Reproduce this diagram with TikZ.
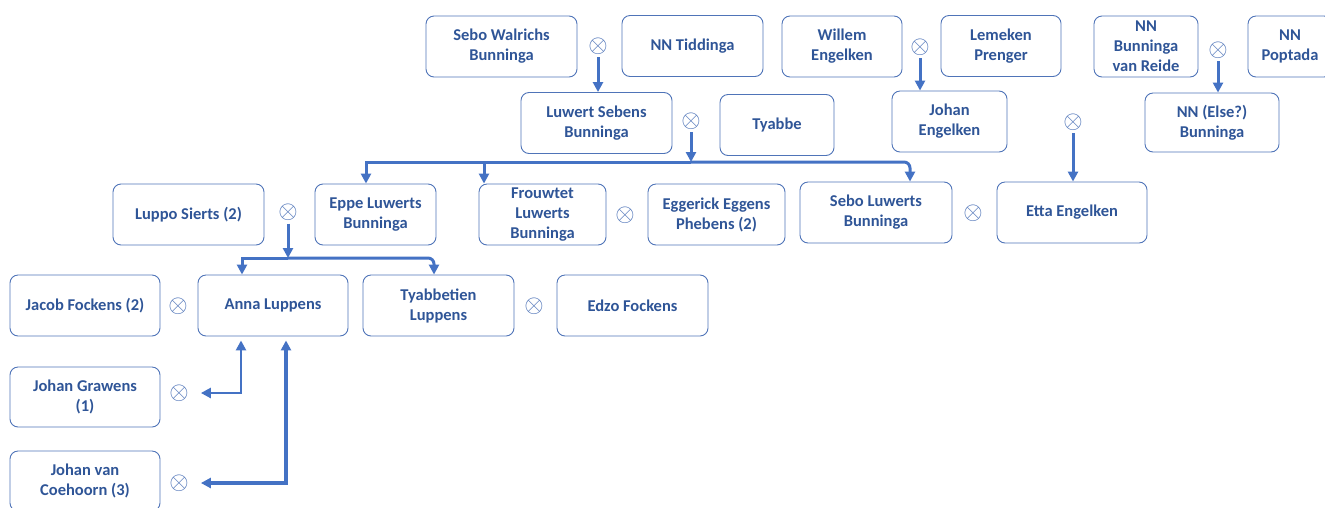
\documentclass[tikz,border=0pt]{standalone}
\usepackage{fontspec}
\setmainfont{Carlito}
\usetikzlibrary{arrows.meta}
\definecolor{nameblue}{HTML}{2F5597}
\definecolor{edgeblue}{HTML}{4F74B8}
\definecolor{linkblue}{HTML}{4472C4}

\begin{document}
\begin{tikzpicture}[x=1pt, y=-1pt,
        person/.style={draw=edgeblue, line width=0.9pt, rounded corners=8pt, minimum height=61pt,
            align=center, text=nameblue, inner sep=2pt, font=\fontsize{16.5}{20}\selectfont\bfseries},
        wed/.style={text=edgeblue, inner sep=0pt, font=\fontsize{25}{25}\selectfont},
        kid/.style={draw=linkblue, line width=3pt, -{Triangle[length=10pt,width=10pt]}},
        twoway/.style={draw=linkblue, {Triangle[length=10pt,width=10pt]}-{Triangle[length=10pt,width=10pt]}}]
                \useasboundingbox (0, 0) rectangle (1325, 507);

                \node[person, minimum width=151] (swb) at (501.5, 46.5) {Sebo Walrichs\\Bunninga};
                \node[person, minimum width=141] (nnt) at (692.5, 46) {NN Tiddinga};
                \node[person, minimum width=120] (we) at (842, 46.5) {Willem\\Engelken};
                \node[person, minimum width=120] (lp) at (1001, 46) {Lemeken\\Prenger};
                \node[person, minimum width=104] (nbr) at (1146, 46.5) {NN\\Bunninga\\van Reide};
                \node[person, minimum width=84] (npo) at (1290, 46.5) {NN\\Poptada};

                \node[person, minimum width=151] (luwert) at (596.5, 123) {Luwert Sebens\\Bunninga};
                \node[person, minimum width=114] (tyabbe) at (777, 125) {Tyabbe};
                \node[person, minimum width=115] (je) at (949.5, 121.5) {Johan\\Engelken};
                \node[person, minimum width=134, minimum height=59] (nne) at (1212, 122.5) {NN (Else?)\\Bunninga};

                \node[person, minimum width=151] (luppo) at (188.5, 214.5) {Luppo Sierts (2)};
                \node[person, minimum width=121] (eppe) at (375.5, 214.5) {Eppe Luwerts\\Bunninga};
                \node[person, minimum width=127] (frouw) at (542.5, 214.5) {Frouwtet\\Luwerts\\Bunninga};
                \node[person, minimum width=137] (egg) at (716.5, 214.5) {Eggerick Eggens\\Phebens (2)};
                \node[person, minimum width=152] (slb) at (876, 212.5) {Sebo Luwerts\\Bunninga};
                \node[person, minimum width=150] (etta) at (1072, 212.5) {Etta Engelken};

                \node[person, minimum width=150] (jacob) at (85, 305.5) {Jacob Fockens (2)};
                \node[person, minimum width=150] (anna) at (273, 305.5) {Anna Luppens};
                \node[person, minimum width=151] (tyabt) at (438.5, 305.5) {Tyabbetien\\Luppens};
                \node[person, minimum width=151] (edzo) at (632.5, 305.5) {Edzo Fockens};

                \node[person, minimum width=150, minimum height=60] (jg) at (85, 397) {Johan Grawens\\(1)};
                \node[person, minimum width=150, minimum height=60] (jvc) at (85, 481) {Johan van\\Coehoorn (3)};

                \node[wed] (m1) at (598, 46) {$\otimes$};
                \node[wed] (m2) at (920, 47) {$\otimes$};
                \node[wed] (m3) at (1218, 50) {$\otimes$};
                \node[wed] (m4) at (691, 121) {$\otimes$};
                \node[wed] (m5) at (1073, 122) {$\otimes$};
                \node[wed] (m6) at (288, 212) {$\otimes$};
                \node[wed] (m7) at (625, 215) {$\otimes$};
                \node[wed] (m8) at (973, 213) {$\otimes$};
                \node[wed] (m9) at (178, 306) {$\otimes$};
                \node[wed] (m10) at (534, 306) {$\otimes$};
                \node[wed] (m11) at (179, 393) {$\otimes$};
                \node[wed] (m12) at (179, 483) {$\otimes$};

                \draw[kid, shorten <=3pt] (m1) -- (m1 |- luwert.north);
                \draw[kid, shorten <=3pt] (m2) -- (m2 |- je.north);
                \draw[kid, shorten <=3pt] (m3) -- (m3 |- nne.north);
                \draw[kid, shorten <=3pt] (m5) -- (m5 |- etta.north);

                \coordinate (bus1) at (691, 162);
                \draw[kid, shorten <=3pt] (m4) -- (bus1);
                \draw[kid] (bus1) -| ([xshift=-9.5]eppe.north);
                \draw[kid] ([xshift=-58.5]frouw.north |- bus1) -- ([xshift=-58.5]frouw.north);
                \draw[kid, rounded corners=6] (bus1) -| ([xshift=34]slb.north);

                \coordinate (bus2) at (288, 258);
                \draw[kid, shorten <=3pt] (m6) -- (bus2);
                \draw[kid] (bus2) -| ([xshift=-31]anna.north);
                \draw[kid, rounded corners=6] (bus2) -| ([xshift=-4.5]tyabt.north);

                \draw[twoway, line width=2.6pt] ([xshift=12]m11.east) -| ([xshift=-32, yshift=-4]anna.south);
                \draw[twoway, line width=3.4pt] ([xshift=12]m12.east) -| ([xshift=13, yshift=-4]anna.south);
            \end{tikzpicture}
\end{document}
